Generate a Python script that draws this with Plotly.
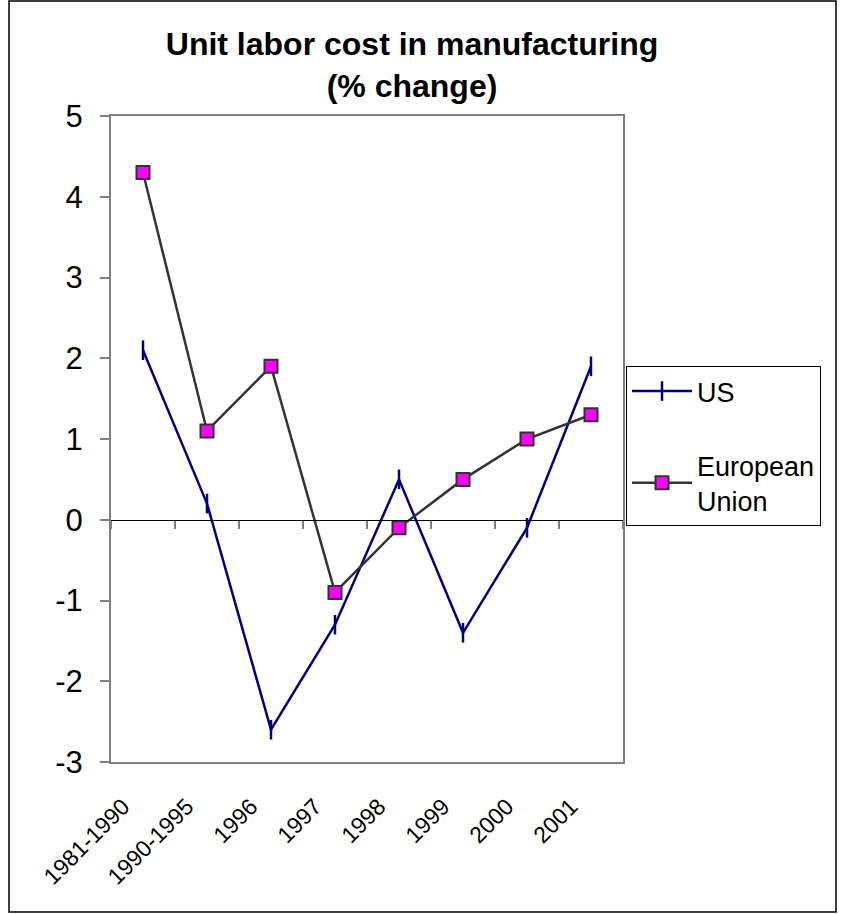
import plotly.graph_objects as go

categories = ["1981-1990", "1990-1995", "1996", "1997", "1998", "1999", "2000", "2001"]
us_values = [2.1, 0.2, -2.6, -1.3, 0.5, -1.4, -0.1, 1.9]
eu_values = [4.3, 1.1, 1.9, -0.9, -0.1, 0.5, 1.0, 1.3]
y_ticks = [-3, -2, -1, 0, 1, 2, 3, 4, 5]
y_tick_labels = [str(v) for v in y_ticks]

FONT = "Arial, Liberation Sans, sans-serif"
W, H = 851, 914
L, R, T, B = 111, 228, 116, 152
pw, ph = W - L - R, H - T - B

def px_x(p):
    return (p - L) / pw

def px_y(p):
    return (H - B - p) / ph

fig = go.Figure()
fig.add_trace(go.Scatter(
    x=categories, y=us_values, name="US", mode="lines+markers",
    line=dict(color="#000080", width=2.5),
    marker=dict(symbol="line-ns", size=14, line=dict(color="#000080", width=2.5)),
    legendgroup="us",
))
fig.add_trace(go.Scatter(
    x=categories, y=eu_values, name="European<br>Union", mode="lines+markers",
    line=dict(color="#333333", width=2.5),
    marker=dict(symbol="square", size=13, color="#FF00FF", line=dict(color="#333333", width=2)),
    legendgroup="eu",
))
# helper trace for the zero-crossing category axis
fig.add_trace(go.Scatter(
    x=categories, y=[None] * len(categories), xaxis="x2", showlegend=False,
    hoverinfo="skip", mode="lines",
))

fig.update_layout(
    width=W, height=H,
    margin=dict(l=L, r=R, t=T, b=B),
    paper_bgcolor="white", plot_bgcolor="white",
    font=dict(family=FONT, color="black"),
    title=dict(
        text="<b>Unit labor cost in manufacturing<br>(% change)</b>",
        x=412 / W, xanchor="center", xref="container",
        y=1 - 55 / H, yanchor="middle", yref="container",
        font=dict(size=32, family=FONT, color="black"),
    ),
    xaxis=dict(
        type="category", range=[-0.5, 7.5], showgrid=False,
        showline=True, linecolor="#808080", linewidth=2, mirror=True,
        ticks="", tickangle=-45, tickfont=dict(size=23, family=FONT),
        ticklabelstandoff=20, ticklabelshift=-20,
    ),
    xaxis2=dict(
        type="category", range=[-0.5, 7.5], overlaying="x", anchor="free",
        position=3 / 8, side="bottom", showgrid=False,
        showline=True, linecolor="black", linewidth=1,
        ticks="outside", tickson="boundaries", ticklen=8, tickcolor="#808080", tickwidth=1.5,
        showticklabels=False,
    ),
    yaxis=dict(
        range=[-3, 5], tickvals=y_ticks, ticktext=y_tick_labels, showgrid=False, zeroline=False,
        showline=True, linecolor="#808080", linewidth=2, mirror=True,
        ticks="outside", ticklen=9, tickcolor="#808080", tickwidth=1.5,
        tickfont=dict(size=31, family=FONT), ticklabelstandoff=11,
    ),
    legend=dict(
        x=px_x(626), y=px_y(366), xanchor="left", yanchor="top",
        bordercolor="black", borderwidth=1, bgcolor="white",
        font=dict(size=27, family=FONT), traceorder="grouped", tracegroupgap=36,
        itemwidth=60,
    ),
    shapes=[dict(
        type="rect", xref="paper", yref="paper",
        x0=px_x(9), x1=px_x(836), y0=px_y(912), y1=px_y(1),
        line=dict(color="black", width=1.5), fillcolor="rgba(0,0,0,0)", layer="below",
    )],
    showlegend=True,
)

fig.write_html("out.html", config={"displayModeBar": False},
               post_script="document.body.style.margin='0px';")
